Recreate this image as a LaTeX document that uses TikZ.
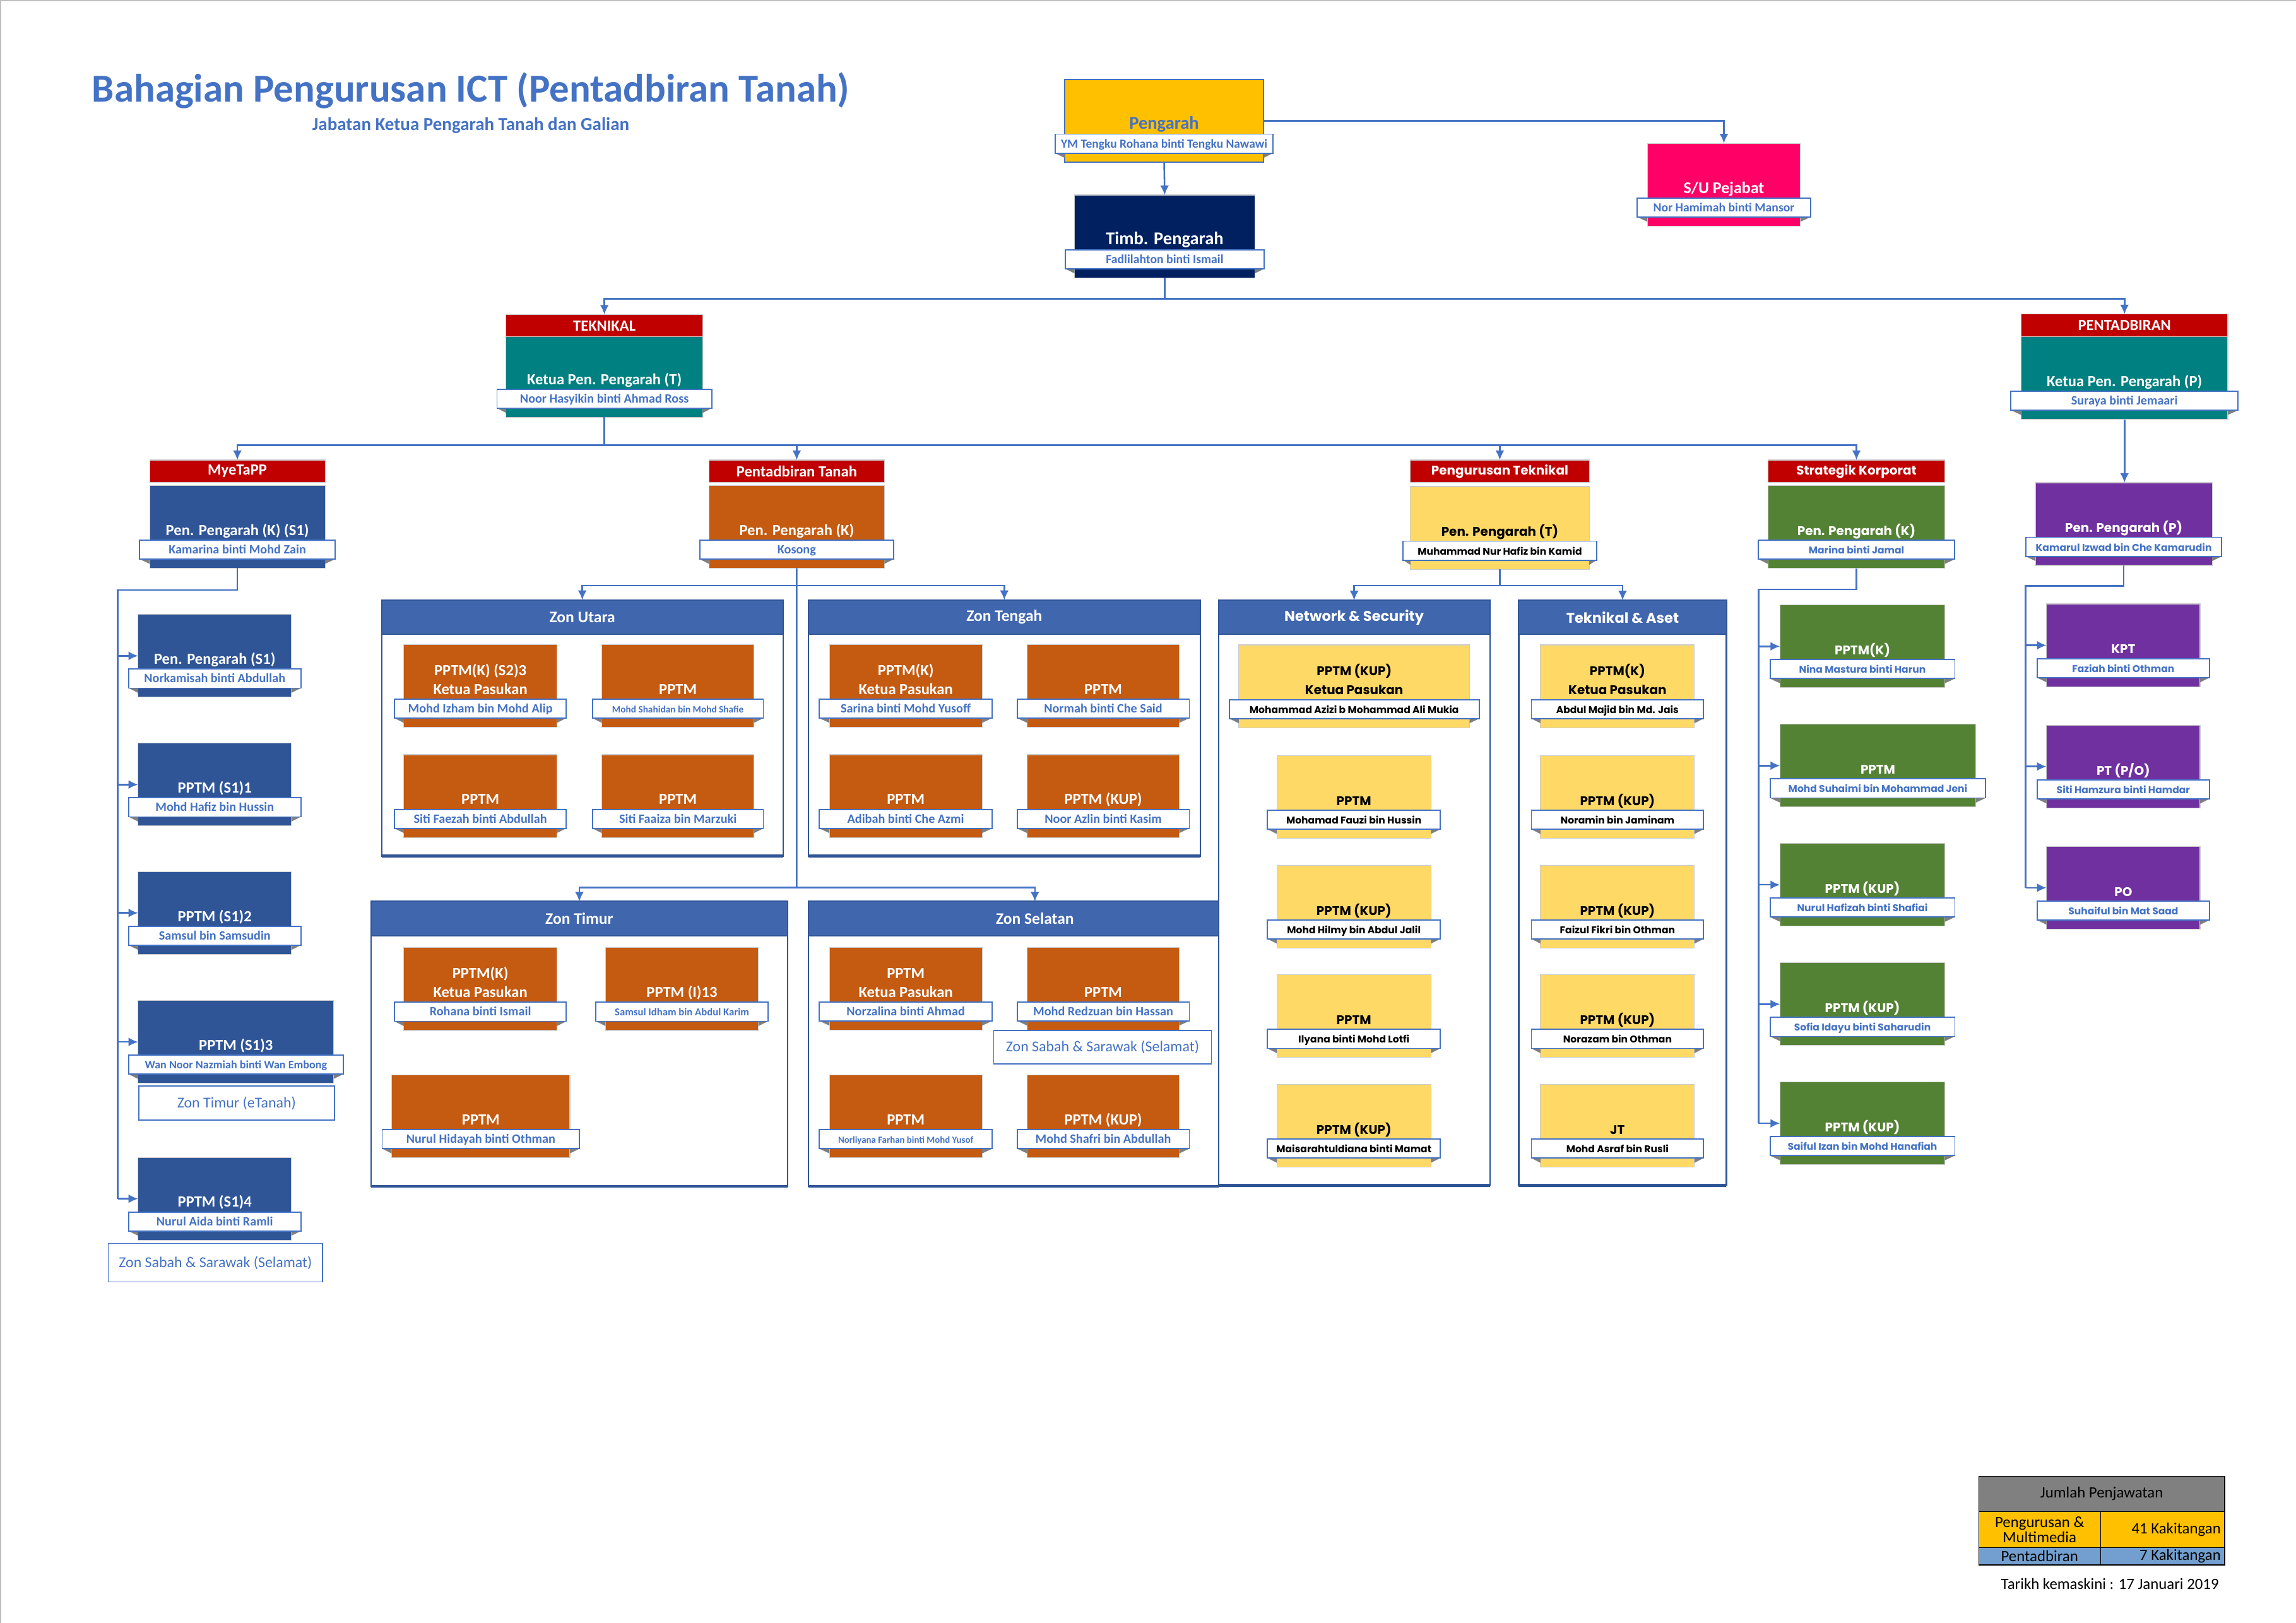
\documentclass[tikz,border=0pt]{standalone}
\usepackage{fontspec}
\setmainfont{Carlito}
\newfontfamily\gothic{Poppins}
\usetikzlibrary{arrows.meta,calc}
\definecolor{cBlue}{HTML}{4472C4}
\definecolor{cPeng}{HTML}{FFC000}
\definecolor{cTimb}{HTML}{002060}
\definecolor{cSU}{HTML}{FF0066}
\definecolor{cRed}{HTML}{C00000}
\definecolor{cTeal}{HTML}{008080}
\definecolor{cMyt}{HTML}{2F5597}
\definecolor{cOrg}{HTML}{C55A11}
\definecolor{cYel}{HTML}{FFD966}
\definecolor{cGrn}{HTML}{548235}
\definecolor{cPur}{HTML}{7030A0}
\definecolor{cZone}{HTML}{4066AE}
\definecolor{cZoneB}{HTML}{2F5597}
\definecolor{cLgH}{HTML}{808080}
\definecolor{cLgB}{HTML}{729FCF}
\definecolor{cFold}{HTML}{7F7F7F}
\tikzset{
  cbox/.style={draw=black!20, line width=0.5pt, minimum height=56.5pt, inner sep=0pt, outer sep=0pt},
  lbl/.style={fill=white, draw=cBlue, line width=0.8pt, minimum height=13pt, inner sep=0pt, outer sep=0pt},
  foldc/.style={fill=cFold},
  cw role/.style={font=\bfseries\fontsize{10.6}{12}\selectfont, text=white, inner sep=0pt},
  cw name/.style={font=\bfseries\fontsize{8.7}{10}\selectfont, text=cBlue, inner sep=0pt},
  gy role/.style={font=\gothic\bfseries\fontsize{8.6}{10}\selectfont, text=black, inner sep=0pt},
  gy name/.style={font=\gothic\bfseries\fontsize{6.7}{8}\selectfont, text=black, inner sep=0pt},
  gw role/.style={font=\gothic\bfseries\fontsize{8.6}{10}\selectfont, text=white, inner sep=0pt},
  gw name/.style={font=\gothic\bfseries\fontsize{6.7}{8}\selectfont, text=cBlue, inner sep=0pt},
  hdrbox/.style={fill=cRed, draw=black!20, line width=0.5pt, minimum height=15.3pt, inner sep=0pt, outer sep=0pt, text=white},
  hcal/.style={font=\bfseries\fontsize{10.6}{12}\selectfont},
  hgot/.style={font=\gothic\bfseries\fontsize{8.6}{10}\selectfont},
  zframe/.style={draw=cZoneB, fill=white, line width=0.9pt, inner sep=0pt, outer sep=0pt},
  zbottom/.style={draw=cZoneB, line width=2pt},
  zhead/.style={fill=cZone, draw=cZoneB, line width=0.8pt, minimum height=23.3pt, inner sep=0pt, outer sep=0pt, text=white},
  zcal/.style={font=\bfseries\fontsize{11}{13}\selectfont},
  zgot/.style={font=\gothic\bfseries\fontsize{9.7}{11}\selectfont},
  zlab/.style={draw=cBlue, fill=white, line width=0.7pt, inner sep=0pt, text=cBlue, font=\fontsize{10.3}{12}\selectfont},
  conn/.style={draw=cBlue, line width=1.1pt},
  arr/.style={conn, -{Latex[length=6.5pt,width=6pt]}},
  lgcell/.style={draw=black, line width=0.6pt, inner sep=0pt, outer sep=0pt, text=black, font=\fontsize{10.7}{10.3}\selectfont},
  lgtxt/.style={inner sep=0pt, text=black, font=\fontsize{10.7}{12}\selectfont},
}
% id, x, y, w, ext, opts, theme, role, name
\newcommand\obox[9]{%
  \node[cbox,#6,minimum width=#4pt,anchor=north west] (#1) at (#2,#3) {};
  \fill[foldc] ({#2-#5},{#3+50.3}) -- (#2,{#3+50.3}) -- (#2,{#3+53.5}) -- cycle;
  \fill[foldc] ({#2+#4+#5},{#3+50.3}) -- ({#2+#4},{#3+50.3}) -- ({#2+#4},{#3+53.5}) -- cycle;
  \node[lbl,minimum width={#4pt+2*#5pt},anchor=north west] (#1n) at ({#2-#5},{#3+37.3}) {};
  \node[#7 role,anchor=base] (#1r) at ({#2+#4/2},{#3+34}) {#8};
  \node[#7 name,anchor=base] (#1t) at ({#2+#4/2},{#3+46.6}) {#9};
}
\newcommand\upline[3]{\node[#2 role,anchor=base] (#1u) at ($(#1.north)+(0,21.1)$) {#3};}
% id, x1, x2, y, text, style
\newcommand\hdr[6]{\node[hdrbox,#6,minimum width={#3pt-#2pt},anchor=north west] (#1) at (#2,#4) {#5};}
% id, x1, x2, y1, y2, title, style, bottom-line end
\newcommand\zone[8]{%
  \node[zframe,minimum width={#3pt-#2pt},minimum height={#5pt-#4pt},anchor=north west] (#1) at (#2,#4) {};
  \draw[zbottom] (#2,#5) -- (#8,#5);
  \node[zhead,#7,minimum width={#3pt-#2pt},anchor=north west] (#1h) at (#2,#4) {#6};
}
\begin{document}
\begin{tikzpicture}[x=1pt,y=-1pt]
\useasboundingbox (0,0) rectangle (1568,1108.5);
\draw[black!25, line width=1pt] (0.5,1108.5) -- (0.5,0.5) -- (1568,0.5);

% title
\node[font=\bfseries\fontsize{27.1}{30}\selectfont, text=cBlue, inner sep=0pt] (title) at (321.5,61.7) {Bahagian Pengurusan ICT (Pentadbiran Tanah)};
\node[font=\bfseries\fontsize{12.5}{14}\selectfont, text=cBlue, inner sep=0pt] (subtitle) at (321.5,85.6) {Jabatan Ketua Pengarah Tanah dan Galian};

% top
\obox{peng}{727}{54.3}{136}{6.5}{fill=cPeng,draw=cBlue,line width=0.8pt}{cw}{\fontsize{12.3}{14}\selectfont\color{cBlue}Pengarah}{\fontsize{8.4}{10}\selectfont YM Tengku Rohana binti Tengku Nawawi}
\obox{timb}{733.8}{133.2}{123.2}{6.4}{fill=cTimb}{cw}{\fontsize{12.3}{14}\selectfont Timb. Pengarah}{\fontsize{8.5}{10}\selectfont Fadlilahton binti Ismail}
\obox{su}{1125}{97.9}{104.6}{7}{fill=cSU}{cw}{\fontsize{11.2}{13}\selectfont S/U Pejabat}{\fontsize{8.5}{10}\selectfont Nor Hamimah binti Mansor}

% second level
\obox{tek}{345.6}{228.5}{134.3}{6.2}{fill=cTeal}{cw}{Ketua Pen. Pengarah (T)}{Noor Hasyikin binti Ahmad Ross}
\hdr{tekh}{345.6}{479.9}{214.8}{TEKNIKAL}{hcal}
\obox{pent}{1380.3}{229.9}{141.1}{7}{fill=cTeal}{cw}{Ketua Pen. Pengarah (P)}{Suraya binti Jemaari}
\hdr{penth}{1380.3}{1521.4}{214.6}{PENTADBIRAN}{hcal}

% third level
\obox{myt}{102.2}{331.6}{119.8}{6.9}{fill=cMyt}{cw}{Pen. Pengarah (K) (S1)}{Kamarina binti Mohd Zain}
\hdr{myth}{102.2}{222}{314.2}{MyeTaPP}{hcal}
\obox{pt}{484.2}{331.6}{119.8}{6.4}{fill=cOrg}{cw}{Pen. Pengarah (K)}{Kosong}
\hdr{pth}{484.2}{604}{314.2}{Pentadbiran Tanah}{hcal}
\obox{ptk}{963.2}{332.3}{122.1}{5}{fill=cYel}{gy}{Pen. Pengarah (T)}{Muhammad Nur Hafiz bin Kamid}
\hdr{ptkh}{963.2}{1085.3}{314.2}{Pengurusan Teknikal}{hgot}
\obox{sk}{1207.4}{331.7}{120.8}{6.5}{fill=cGrn}{gw}{Pen. Pengarah (K)}{Marina binti Jamal}
\hdr{skh}{1207.4}{1328.2}{314.2}{Strategik Korporat}{hgot}
\obox{ppp}{1390}{329.7}{120.7}{6.6}{fill=cPur}{gw}{Pen. Pengarah (P)}{Kamarul Izwad bin Che Kamarudin}

% MyeTaPP column
\obox{s10}{94.3}{419.7}{104.7}{6.5}{fill=cMyt}{cw}{Pen. Pengarah (S1)}{Norkamisah binti Abdullah}
\obox{s11}{94.3}{507.6}{104.7}{6.5}{fill=cMyt}{cw}{PPTM (S1)1}{Mohd Hafiz bin Hussin}
\obox{s12}{94.3}{595.3}{104.7}{6.5}{fill=cMyt}{cw}{PPTM (S1)2}{Samsul bin Samsudin}
\obox{s13}{94.3}{683.4}{133.6}{6.5}{fill=cMyt}{cw}{PPTM (S1)3}{\fontsize{7.8}{9}\selectfont Wan Noor Nazmiah binti Wan Embong}
\obox{s14}{94.3}{790.5}{104.7}{6.5}{fill=cMyt}{cw}{PPTM (S1)4}{Nurul Aida binti Ramli}
\node[zlab,minimum width=133.6pt,minimum height=23.1pt,anchor=north west] (zte) at (94.4,741.5) {Zon Timur (eTanah)};
\node[zlab,minimum width=146.4pt,minimum height=26.3pt,anchor=north west] (zss1) at (73.6,849) {Zon Sabah \& Sarawak (Selamat)};

% zones
\zone{zu}{260.6}{534.7}{409.8}{584.7}{Zon Utara}{zcal}{534.7}
\zone{zt}{552}{819.7}{409.8}{584.7}{Zon Tengah}{zcal}{819.7}
\zone{ztm}{253.6}{537.7}{615.7}{810.3}{Zon Timur}{zcal}{537.7}
\zone{zs}{552}{861.5}{615.7}{810.3}{Zon Selatan}{zcal}{832.1}
\zone{ns}{832.1}{1017.4}{410}{809.6}{Network \& Security}{zgot}{1017.4}
\zone{ta}{1037.2}{1179}{410}{809.6}{Teknikal \& Aset}{zgot}{1179}

% Zon Utara
\obox{zu1}{275.8}{440.2}{104.5}{6.4}{fill=cOrg}{cw}{Ketua Pasukan}{Mohd Izham bin Mohd Alip}
\upline{zu1}{cw}{PPTM(K) (S2)3}
\obox{zu2}{411}{440.2}{103.9}{6.4}{fill=cOrg}{cw}{PPTM}{\fontsize{6.6}{8}\selectfont Mohd Shahidan bin Mohd Shafie}
\obox{zu3}{275.8}{515.5}{104.5}{6.4}{fill=cOrg}{cw}{PPTM}{Siti Faezah binti Abdullah}
\obox{zu4}{411}{515.5}{103.9}{6.4}{fill=cOrg}{cw}{PPTM}{Siti Faaiza bin Marzuki}
% Zon Tengah
\obox{zt1}{566.4}{440.2}{104.3}{6.9}{fill=cOrg}{cw}{Ketua Pasukan}{Sarina binti Mohd Yusoff}
\upline{zt1}{cw}{PPTM(K)}
\obox{zt2}{701.5}{440.2}{103.8}{6.9}{fill=cOrg}{cw}{PPTM}{Normah binti Che Said}
\obox{zt3}{566.4}{515.5}{104.3}{6.9}{fill=cOrg}{cw}{PPTM}{Adibah binti Che Azmi}
\obox{zt4}{701.5}{515.5}{103.8}{6.9}{fill=cOrg}{cw}{PPTM (KUP)}{Noor Azlin binti Kasim}
% Zon Timur
\obox{ztm1}{275.8}{647.3}{104.5}{6.4}{fill=cOrg}{cw}{Ketua Pasukan}{Rohana binti Ismail}
\upline{ztm1}{cw}{PPTM(K)}
\obox{ztm2}{413.5}{647.3}{104.4}{6.5}{fill=cOrg}{cw}{PPTM (I)13}{\fontsize{7.2}{8}\selectfont Samsul Idham bin Abdul Karim}
\obox{ztm3}{267.5}{734.3}{121.7}{6.5}{fill=cOrg}{cw}{PPTM}{Nurul Hidayah binti Othman}
% Zon Selatan
\obox{zs1}{566.4}{647}{104.3}{6.9}{fill=cOrg}{cw}{Ketua Pasukan}{Norzalina binti Ahmad}
\upline{zs1}{cw}{PPTM}
\obox{zs2}{701.5}{647}{103.8}{6.9}{fill=cOrg}{cw}{PPTM}{Mohd Redzuan bin Hassan}
\obox{zs3}{566.4}{734.3}{104.3}{6.9}{fill=cOrg}{cw}{PPTM}{\fontsize{6.4}{8}\selectfont Norliyana Farhan binti Mohd Yusof}
\obox{zs4}{701.5}{734.3}{103.8}{6.9}{fill=cOrg}{cw}{PPTM (KUP)}{Mohd Shafri bin Abdullah}
\node[zlab,minimum width=148.8pt,minimum height=22.8pt,anchor=north west] (zss2) at (678.2,703.4) {Zon Sabah \& Sarawak (Selamat)};

% Network & Security
\obox{ns1}{846}{440.5}{157.6}{6.5}{fill=cYel}{gy}{Ketua Pasukan}{Mohammad Azizi b Mohammad Ali Mukia}
\upline{ns1}{gy}{PPTM (KUP)}
\obox{ns2}{872}{516.1}{105.2}{6.4}{fill=cYel}{gy}{PPTM}{Mohamad Fauzi bin Hussin}
\obox{ns3}{872}{591}{105.2}{6.4}{fill=cYel}{gy}{PPTM (KUP)}{Mohd Hilmy bin Abdul Jalil}
\obox{ns4}{872}{665.8}{105.2}{6.4}{fill=cYel}{gy}{PPTM}{Ilyana binti Mohd Lotfi}
\obox{ns5}{872}{740.7}{105.2}{6.4}{fill=cYel}{gy}{PPTM (KUP)}{Maisarahtuldiana binti Mamat}
% Teknikal & Aset
\obox{ta1}{1052}{440.5}{105.2}{6.2}{fill=cYel}{gy}{Ketua Pasukan}{Abdul Majid bin Md. Jais}
\upline{ta1}{gy}{PPTM(K)}
\obox{ta2}{1052}{516.1}{105.2}{6.2}{fill=cYel}{gy}{PPTM (KUP)}{Noramin bin Jaminam}
\obox{ta3}{1052}{591}{105.2}{6.2}{fill=cYel}{gy}{PPTM (KUP)}{Faizul Fikri bin Othman}
\obox{ta4}{1052}{665.8}{105.2}{6.2}{fill=cYel}{gy}{PPTM (KUP)}{Norazam bin Othman}
\obox{ta5}{1052}{740.7}{105.2}{6.2}{fill=cYel}{gy}{JT}{Mohd Asraf bin Rusli}

% Strategik Korporat
\obox{sk1}{1215.6}{413.2}{112.6}{6.8}{fill=cGrn}{gw}{PPTM(K)}{Nina Mastura binti Harun}
\obox{sk2}{1215.6}{494.7}{133.7}{6.8}{fill=cGrn}{gw}{PPTM}{Mohd Suhaimi bin Mohammad Jeni}
\obox{sk3}{1215.6}{576.1}{112.6}{6.8}{fill=cGrn}{gw}{PPTM (KUP)}{Nurul Hafizah binti Shafiai}
\obox{sk4}{1215.6}{657.6}{112.6}{6.8}{fill=cGrn}{gw}{PPTM (KUP)}{Sofia Idayu binti Saharudin}
\obox{sk5}{1215.6}{739}{112.6}{6.8}{fill=cGrn}{gw}{PPTM (KUP)}{Saiful Izan bin Mohd Hanafiah}

% Pentadbiran
\obox{kpt}{1397.6}{412.5}{104.9}{6.5}{fill=cPur}{gw}{KPT}{Faziah binti Othman}
\obox{pto}{1397.6}{495.3}{104.9}{6.5}{fill=cPur}{gw}{PT (P/O)}{Siti Hamzura binti Hamdar}
\obox{po}{1397.6}{578.1}{104.9}{6.5}{fill=cPur}{gw}{PO}{Suhaiful bin Mat Saad}

% connectors
\draw[arr] (peng.south) -- (timb.north);
\draw[arr] (peng.east) -| (su.north);
\coordinate (bus1) at (795.4,204);
\draw[conn] (timb.south) -- (bus1);
\draw[arr] (bus1) -| (tekh.north);
\draw[arr] (bus1) -| (penth.north);
\coordinate (bus2) at (412.75,304);
\draw[conn] (tek.south) -- (bus2);
\draw[arr] (bus2) -| (myth.north);
\draw[arr] (bus2) -| (pth.north);
\draw[arr] (bus2) -| (ptkh.north);
\draw[arr] (bus2) -| (skh.north);
\draw[arr] (pent.south) -- (pent.south |- ppp.north);

\coordinate (lb) at (80.5,403);
\draw[conn] (myt.south) |- (lb) -- (lb |- s14.west);
\foreach \n in {s10,s11,s12,s13,s14} {\draw[arr] (lb |- \n.west) -- (\n.west);}

\coordinate (ptb1) at (544.1,400);
\coordinate (ptb2) at (544.1,606.3);
\draw[conn] (pt.south) -- (ptb2);
\draw[arr] (ptb1) -| (zuh.north);
\draw[arr] (ptb1) -| (zth.north);
\draw[arr] (ptb2) -| (ztmh.north);
\draw[arr] (ptb2) -| (zsh.north);

\coordinate (tkb) at (1024.25,400);
\draw[conn] (ptk.south) -- (tkb);
\draw[arr] (tkb) -| (nsh.north);
\draw[arr] (tkb) -| (tah.north);

\coordinate (skb) at (1200.9,402.6);
\draw[conn] (sk.south) |- (skb) -- (skb |- sk5.west);
\foreach \n in {sk1,sk2,sk3,sk4,sk5} {\draw[arr] (skb |- \n.west) -- (\n.west);}

\coordinate (ppb) at (1383.4,400.3);
\draw[conn] (ppp.south) |- (ppb) -- (ppb |- po.west);
\foreach \n in {kpt,pto,po} {\draw[arr] (ppb |- \n.west) -- (\n.west);}

% legend
\node[lgcell,fill=cLgH,minimum width=168pt,minimum height=24.2pt,anchor=north west] (lgh) at (1351.3,1008.2) {Jumlah Penjawatan};
\node[lgcell,fill=cPeng,minimum width=83.2pt,minimum height=24.6pt,anchor=north west,align=center] (lga1) at (1351.3,1032.4) {Pengurusan \&\\Multimedia};
\node[lgcell,fill=cPeng,minimum width=84.8pt,minimum height=24.6pt,anchor=north west] (lgb1) at (1434.5,1032.4) {};
\node[lgtxt,anchor=east] (lgb1t) at ($(lgb1.east)+(-2.5,0)$) {41 Kakitangan};
\node[lgcell,fill=cLgB,minimum width=83.2pt,minimum height=11.9pt,anchor=north west] (lga2) at (1351.3,1057) {Pentadbiran};
\node[lgcell,fill=cLgB,minimum width=84.8pt,minimum height=11.9pt,anchor=north west] (lgb2) at (1434.5,1057) {};
\node[lgtxt,anchor=east] (lgb2t) at ($(lgb2.east)+(-2.5,0)$) {7 Kakitangan};
\node[lgtxt] (date) at (1440.9,1081.8) {Tarikh kemaskini : 17 Januari 2019};
\end{tikzpicture}
\end{document}
